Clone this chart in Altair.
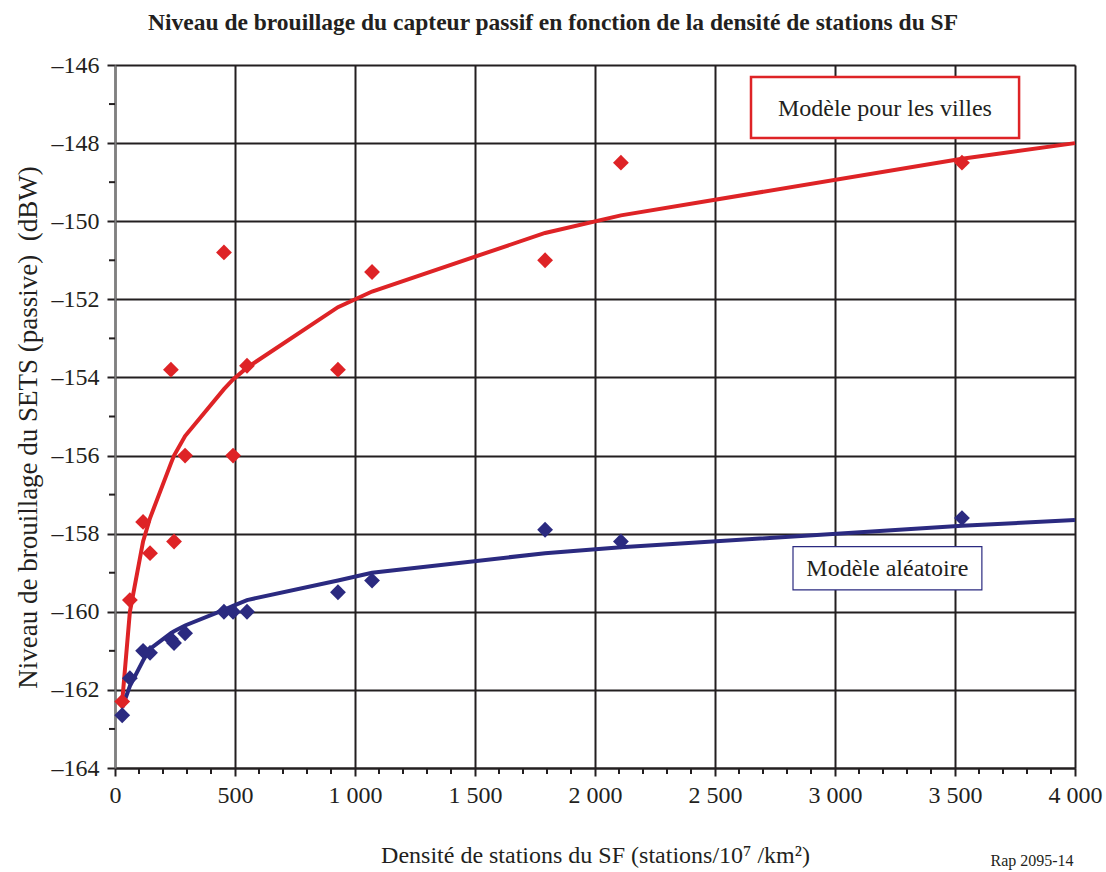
import altair as alt
import pandas as pd

# Measured interference levels per FSS station density
density = [30, 62, 117, 146, 233, 246, 292, 454, 492, 550, 929, 1071, 1792, 2108, 3529]
city_points = [-162.3, -159.7, -157.7, -158.5, -153.8, -158.2, -156.0, -150.8,
               -156.0, -153.7, -153.8, -151.3, -151.0, -148.5, -148.5]
random_points = [-162.65, -161.7, -161.0, -161.05, -160.7, -160.8, -160.55, -160.0,
                 -160.0, -160.0, -159.5, -159.2, -157.9, -158.2, -157.6]

# Trend curves
curve_density = [30, 62, 117, 146, 233, 246, 292, 454, 492, 550, 929, 1071,
                 1792, 2108, 3529, 4000]
city_curve = [-162.3, -160.0, -158.2, -157.6, -156.2, -156.0, -155.5, -154.3,
              -154.05, -153.75, -152.2, -151.8, -150.3, -149.85, -148.4, -148.0]
random_curve = [-162.45, -161.9, -161.25, -160.95, -160.55, -160.5, -160.35, -159.95,
                -159.85, -159.7, -159.2, -159.0, -158.5, -158.35, -157.8, -157.65]

x_ticks = [0, 500, 1000, 1500, 2000, 2500, 3000, 3500, 4000]
x_minor = [v for v in range(100, 4000, 100) if v % 500]
y_ticks = [-164, -162, -160, -158, -156, -154, -152, -150, -148, -146]
y_minor = [-163, -161, -159, -157, -155, -153, -151, -149, -147]

RED = "#de2326"
NAVY = "#2b2a80"
INK = "#231f20"
SERIF = "Liberation Serif"

pts = pd.DataFrame({"x": density * 2,
                    "y": city_points + random_points,
                    "s": ["villes"] * len(density) + ["aleatoire"] * len(density)})
crv = pd.DataFrame({"x": curve_density * 2,
                    "y": city_curve + random_curve,
                    "s": ["villes"] * len(curve_density) + ["aleatoire"] * len(curve_density)})

xscale = alt.Scale(domain=[0, 4000], nice=False, zero=False)
yscale = alt.Scale(domain=[-164, -146], nice=False, zero=False)
color = alt.Color("s:N", scale=alt.Scale(domain=["villes", "aleatoire"], range=[RED, NAVY]),
                  legend=None)

xaxis = alt.Axis(values=x_ticks, title="Densité de stations du SF (stations/10⁷ /km²)",
                 labelExpr="replace(format(datum.value, ','), ',', ' ')",
                 grid=True, gridColor=INK, gridWidth=2, gridOpacity=1,
                 domainColor=INK, domainWidth=2, tickColor=INK, tickWidth=2, tickSize=8,
                 labelFont=SERIF, labelFontSize=24, labelColor=INK, labelPadding=7,
                 titleFont=SERIF, titleFontSize=24, titleFontWeight="normal",
                 titleColor=INK, titlePadding=36, labelFlush=False)
yaxis = alt.Axis(values=y_ticks,
                 title="Niveau de brouillage du SETS (passive)\u00a0\u00a0(dBW)",
                 labelExpr="replace(toString(datum.value), '-', '–')",
                 grid=True, gridColor=INK, gridWidth=2, gridOpacity=1,
                 domainColor="#808080", domainWidth=2, tickColor=INK, tickWidth=2, tickSize=8,
                 labelFont=SERIF, labelFontSize=24, labelColor=INK, labelPadding=8,
                 titleFont=SERIF, titleFontSize=27, titleFontWeight="normal",
                 titleColor=INK, titlePadding=9, titleY=362, labelFlush=False)

lines = alt.Chart(crv).mark_line(strokeWidth=4, interpolate="linear").encode(
    x=alt.X("x:Q", scale=xscale, axis=xaxis),
    y=alt.Y("y:Q", scale=yscale, axis=yaxis),
    color=color,
    detail="s:N",
)

diamonds = alt.Chart(pts).mark_point(shape="diamond", filled=True, size=250, opacity=1).encode(
    x=alt.X("x:Q", scale=xscale),
    y=alt.Y("y:Q", scale=yscale),
    color=color,
)

xminor = alt.Chart(pd.DataFrame({"x": x_minor})).mark_rule(color=INK, strokeWidth=2).encode(
    x=alt.X("x:Q", scale=xscale), y=alt.value(703), y2=alt.value(709))
yminor = alt.Chart(pd.DataFrame({"y": y_minor})).mark_rule(color=INK, strokeWidth=2).encode(
    y=alt.Y("y:Q", scale=yscale), x=alt.value(-6), x2=alt.value(0))

one = pd.DataFrame({"k": [0]})
box_city = alt.Chart(one).mark_rect(fill="white", stroke=RED, strokeWidth=2.5).encode(
    x=alt.datum(2650, scale=xscale), x2=alt.datum(3767),
    y=alt.datum(-146.31, scale=yscale), y2=alt.datum(-147.87))
text_city = alt.Chart(one).mark_text(font=SERIF, fontSize=24, color=INK).encode(
    x=alt.datum(3208, scale=xscale), y=alt.datum(-147.12, scale=yscale),
    text=alt.value("Modèle pour les villes"))
box_rand = alt.Chart(one).mark_rect(fill="white", stroke=NAVY, strokeWidth=1.2).encode(
    x=alt.datum(2825, scale=xscale), x2=alt.datum(3612),
    y=alt.datum(-158.33, scale=yscale), y2=alt.datum(-159.44))
text_rand = alt.Chart(one).mark_text(font=SERIF, fontSize=24, color=INK).encode(
    x=alt.datum(3218, scale=xscale), y=alt.datum(-158.9, scale=yscale),
    text=alt.value("Modèle aléatoire"))
ref = alt.Chart(one).mark_text(font=SERIF, fontSize=16, color=INK, align="center").encode(
    x=alt.value(917), y=alt.value(796), text=alt.value("Rap 2095-14"))

chart = alt.layer(xminor, yminor, lines, diamonds, box_city, text_city, box_rand, text_rand, ref).properties(
    width=960, height=703,
    title=alt.TitleParams("Niveau de brouillage du capteur passif en fonction de la densité de stations du SF",
                          font=SERIF, fontSize=23.5, fontWeight="bold", color=INK,
                          anchor="middle", dx=-42, offset=19),
    autosize=alt.AutoSizeParams(type="none"),
    padding={"left": 115, "top": 65, "right": 31, "bottom": 104},
).configure_view(stroke=INK, strokeWidth=2).configure(background="white")

chart.save("out.html", embed_options={"renderer": "svg", "actions": False})
